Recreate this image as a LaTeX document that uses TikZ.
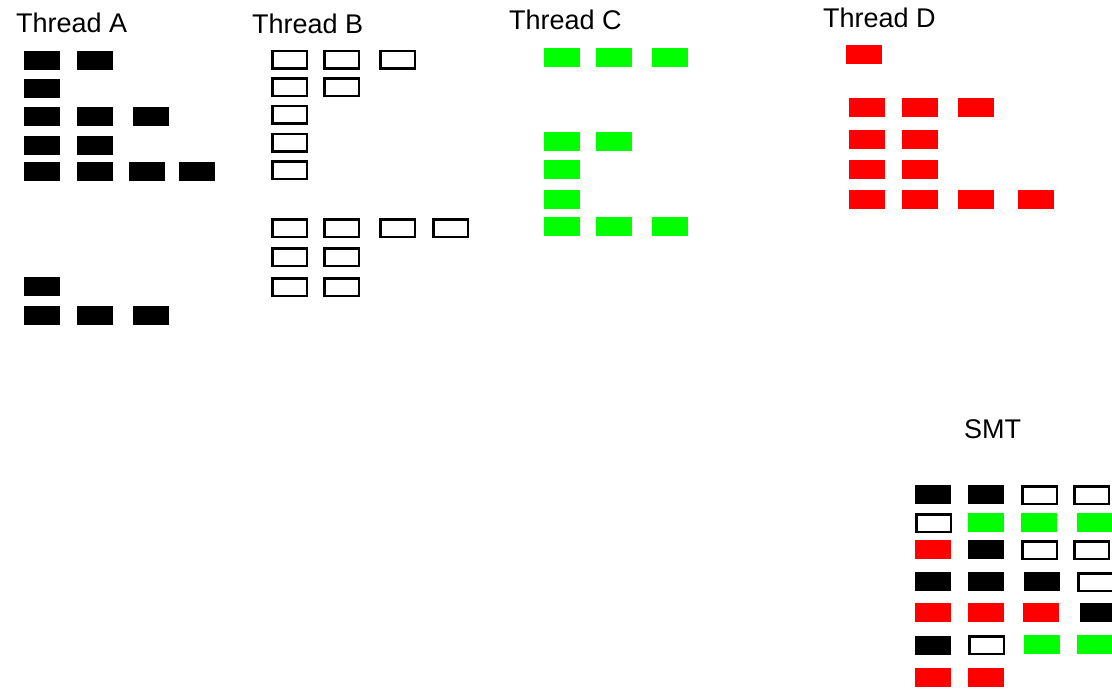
\documentclass[tikz,border=0pt]{standalone}
\usepackage{fontspec}
\setmainfont{Liberation Sans}
\definecolor{pgreen}{RGB}{0,255,0}
\definecolor{pred}{RGB}{255,0,0}
\tikzset{
  blk/.style={rectangle, anchor=north west, inner sep=0pt, minimum width=36pt, minimum height=19pt},
  fb/.style={blk, fill=black},
  fg/.style={blk, fill=pgreen},
  fr/.style={blk, fill=pred},
  ob/.style={blk, draw=black, fill=white, line width=2.8pt, minimum width=34.5pt, minimum height=17.5pt},
  lbl/.style={anchor=base west, inner sep=0pt, font=\fontsize{27pt}{30pt}\selectfont, text=black}
}
\begin{document}
\begin{tikzpicture}[x=1pt, y=-1pt]
\clip (0,0) rectangle (1112,689);
\useasboundingbox (0,0) rectangle (1112,689);
% labels
\node[lbl] (labA) at (16,32) {Thread A};
\node[lbl] (labB) at (252,33) {Thread B};
\node[lbl] (labC) at (509,29) {Thread C};
\node[lbl] (labD) at (823,27) {Thread D};
\node[lbl] (labS) at (964,438) {SMT};
% Thread A
\foreach \n/\x/\y in {a1/24/51, a2/77/51, a3/24/79, a4/24/107, a5/77/107, a6/133/107,
  a7/24/136, a8/77/136, a9/24/162, a10/77/162, a11/129/162, a12/179/162,
  a13/24/277, a14/24/306, a15/77/306, a16/133/306}
  \node[fb] (\n) at (\x,\y) {};
% Thread B
\foreach \n/\x/\y in {b1/271/49.5, b2/323/49.5, b3/379/49.5, b4/271/77, b5/323/77,
  b6/271/104.5, b7/271/132.5, b8/271/160, b9/271/218, b10/323/218, b11/379/218, b12/432/218,
  b13/271/247, b14/323/247, b15/271/277, b16/323/277}
  \node[ob] (\n) at (\x,\y) {};
% Thread C
\foreach \n/\x/\y in {c1/544/48, c2/596/48, c3/652/48, c4/544/132, c5/596/132,
  c6/544/160, c7/544/190, c8/544/217, c9/596/217, c10/652/217}
  \node[fg] (\n) at (\x,\y) {};
% Thread D
\foreach \n/\x/\y in {d1/846/45, d2/849/98, d3/902/98, d4/958/98, d5/849/130, d6/902/130,
  d7/849/160, d8/902/160, d9/849/190, d10/902/190, d11/958/190, d12/1018/190}
  \node[fr] (\n) at (\x,\y) {};
% SMT
\foreach \n/\s/\x/\y in {s1/fb/915/485, s2/fb/968/485, s3/ob/1021/485, s4/ob/1073/485,
  s5/ob/915/513, s6/fg/968/513, s7/fg/1021/513, s8/fg/1077/513,
  s9/fr/915/540, s10/fb/968/540, s11/ob/1021/540, s12/ob/1073/540,
  s13/fb/915/572, s14/fb/968/572, s15/fb/1024/572, s16/ob/1077/572,
  s17/fr/915/603, s18/fr/968/603, s19/fr/1023/603, s20/fb/1080/603,
  s21/fb/915/636, s22/ob/968/635, s23/fg/1024/635, s24/fg/1077/635,
  s25/fr/915/668, s26/fr/968/668}
  \node[\s] (\n) at (\x,\y) {};
\end{tikzpicture}
\end{document}
